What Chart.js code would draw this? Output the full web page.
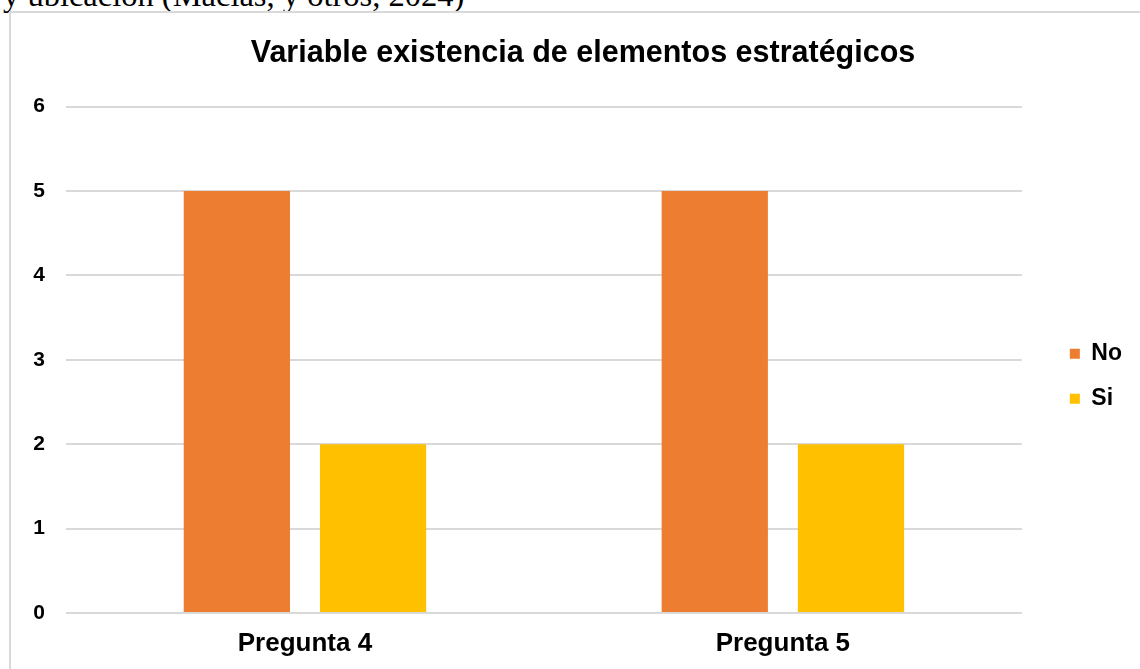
<!DOCTYPE html>
<html lang="es">
<head>
<meta charset="UTF-8">
<title>Variable existencia de elementos estratégicos</title>
<style>
    html, body { margin: 0; padding: 0; background: #fff; overflow: hidden; }
    body { width: 1140px; height: 669px; position: relative; }
    .cita {
        position: absolute; left: 3px; top: -21px;
        font-family: "Liberation Serif", "Times New Roman", serif;
        font-size: 32.5px; line-height: 32px; color: #000; white-space: nowrap;
    }
    .marco {
        position: absolute; left: 9px; top: 11px; width: 1200px; height: 700px;
        border: 2px solid #d9d9d9; box-sizing: border-box;
    }
    .caja { position: absolute; left: 0; top: 0; width: 1164px; height: 669px; }
</style>
</head>
<body>
<div class="cita">y ubicación (Macías, y otros, 2024)</div>
<div class="marco"></div>
<div class="caja"><canvas id="grafico"></canvas></div>

<script src="https://cdn.jsdelivr.net/npm/chart.js"></script>
<script>
// datos
const categorias = ['Pregunta 4', 'Pregunta 5'];
const valoresNo = [5, 5];
const valoresSi = [2, 2];
const ticksY = [0, 1, 2, 3, 4, 5, 6];

const fuente = '"Liberation Sans", Arial, sans-serif';

const dados = {
    labels: categorias,
    datasets: [{
        label: 'No',
        data: valoresNo,
        backgroundColor: '#ED7D31',
        categoryPercentage: 0.57,
        barPercentage: 0.78
    }, {
        label: 'Si',
        data: valoresSi,
        backgroundColor: '#FFC000',
        categoryPercentage: 0.57,
        barPercentage: 0.78
    }]
};

// ejes auxiliares vacios, solo reservan espacio alrededor de la leyenda
const ejeHueco = (ancho, peso) => ({
    type: 'linear',
    position: 'right',
    weight: peso,
    display: true,
    grid: { display: false, drawTicks: false },
    border: { display: false },
    ticks: { display: false },
    afterFit: function (escala) { escala.width = ancho; }
});

const config = {
    type: 'bar',
    data: dados,
    options: {
        responsive: false,
        animation: false,
        devicePixelRatio: 1,
        layout: { padding: { left: 12, right: 10, top: 0, bottom: 12 } },
        plugins: {
            title: {
                display: true,
                text: 'Variable existencia de elementos estratégicos',
                color: '#000',
                font: { family: fuente, size: 30.5, weight: 'bold' },
                padding: { top: 35, bottom: 35 }
            },
            legend: {
                position: 'right',
                fullSize: false,
                title: { display: true, text: '', font: { size: 10 }, padding: { top: 21, bottom: 0 } },
                labels: {
                    color: '#000',
                    font: { family: fuente, size: 23, weight: 'bold' },
                    boxWidth: 10,
                    boxHeight: 10,
                    padding: 22
                }
            },
            tooltip: { enabled: false }
        },
        scales: {
            x: {
                grid: { display: false, drawTicks: false },
                border: { display: false },
                ticks: {
                    color: '#000',
                    padding: 15,
                    font: { family: fuente, size: 26, weight: 'bold' }
                },
                afterFit: function (escala) { escala.height = 44; }
            },
            y: {
                min: 0,
                max: 6,
                afterBuildTicks: function (escala) {
                    escala.ticks = ticksY.map(v => ({ value: v }));
                },
                grid: { color: '#d9d9d9', lineWidth: 2, drawTicks: false },
                border: { display: false },
                ticks: {
                    color: '#000',
                    padding: 21,
                    font: { family: fuente, size: 21, weight: 'bold' }
                },
                afterFit: function (escala) { escala.width = 54; }
            },
            hueco1: ejeHueco(26, 0),
            hueco2: ejeHueco(22, 2000)
        }
    }
};

const lienzo = document.getElementById('grafico');
lienzo.width = 1164;
lienzo.height = 669;
new Chart(lienzo, config);
</script>
</body>
</html>
